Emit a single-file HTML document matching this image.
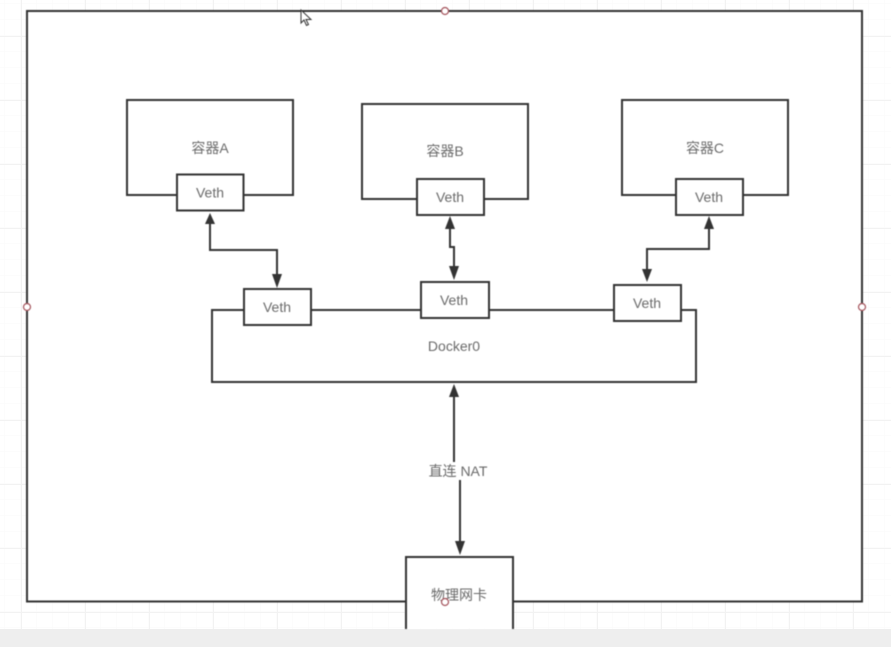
<!DOCTYPE html>
<html>
<head>
<meta charset="utf-8">
<style>
html,body{margin:0;padding:0;background:#fff;width:891px;height:647px;overflow:hidden}
svg{display:block}
.b{filter:blur(0.45px)}
text{font-family:"Liberation Sans","Noto Sans CJK SC",sans-serif;font-size:14px;fill:#6a6a6a;text-anchor:middle}
</style>
</head>
<body>
<svg width="891" height="647" viewBox="0 0 891 647" xmlns="http://www.w3.org/2000/svg">
<defs>
<pattern id="minor" width="16" height="16" patternUnits="userSpaceOnUse" x="5" y="4">
<path d="M16 0V16M0 16H16" fill="none" stroke="#fafafa" stroke-width="1"/>
</pattern>
<pattern id="major" width="64" height="64" patternUnits="userSpaceOnUse" x="21" y="36">
<path d="M0.5 0V64M0 0.5H64" fill="none" stroke="#f2f2f2" stroke-width="1"/>
</pattern>
</defs>
<rect width="891" height="647" fill="#fff"/>
<rect width="891" height="629" fill="url(#minor)"/>
<rect width="891" height="629" fill="url(#major)"/>
<rect x="0" y="629" width="891" height="18" fill="#eeeeee"/>

<g class="b">
<g fill="#fff" stroke="#333" stroke-width="2">
<rect x="27" y="11" width="835" height="590.500"/>
<rect x="127" y="100" width="166" height="95"/>
<rect x="362" y="104" width="166" height="95"/>
<rect x="622" y="100" width="166" height="95"/>
<rect x="212" y="310" width="484" height="72"/>
<path d="M406 629V557H513V629"/>
<rect x="177" y="174.500" width="66.500" height="36"/>
<rect x="417" y="179" width="67" height="36"/>
<rect x="676" y="179" width="67" height="36"/>
<rect x="244" y="289" width="67" height="36"/>
<rect x="421" y="282" width="68" height="36"/>
<rect x="614" y="285" width="67" height="36"/>
</g>

<g fill="none" stroke="#333" stroke-width="2">
<path d="M210 224V250H277V276"/>
<path d="M450 228V247H454V268"/>
<path d="M709 228V249H647V270"/>
<path d="M454 396V462"/>
<path d="M460 480V543"/>
</g>
<g fill="#333">
<path d="M210 213L215 224H205Z"/>
<path d="M277 288L272 274H282Z"/>
<path d="M450 216L455 229H445Z"/>
<path d="M454 280L449 266H459Z"/>
<path d="M709 216L714 229H704Z"/>
<path d="M647 282L642 269H652Z"/>
<path d="M454 384L459 397H449Z"/>
<path d="M460 555L455 541H465Z"/>
</g>

<text x="210" y="153">容器A</text>
<text x="445" y="156">容器B</text>
<text x="705" y="153">容器C</text>
<text x="210" y="197.500">Veth</text>
<text x="450" y="202">Veth</text>
<text x="709" y="202">Veth</text>
<text x="277" y="312">Veth</text>
<text x="454" y="305">Veth</text>
<text x="647" y="308">Veth</text>
<text x="454" y="351">Docker0</text>
<text x="458" y="476">直连 NAT</text>
<text x="459" y="600">物理网卡</text>

<g fill="#fff" stroke="#a5545c" stroke-width="1.200">
<circle cx="445" cy="11" r="3.500"/>
<circle cx="27" cy="307" r="3.500"/>
<circle cx="862" cy="307" r="3.500"/>
<circle cx="445" cy="602" r="3.500"/>
</g>

<path d="M301 10V23L304 20L306.500 25.500L308.500 24.500L306 19.500L311 19.500Z" fill="#fff" stroke="#333" stroke-width="1"/>
</g>
</svg>
</body>
</html>
